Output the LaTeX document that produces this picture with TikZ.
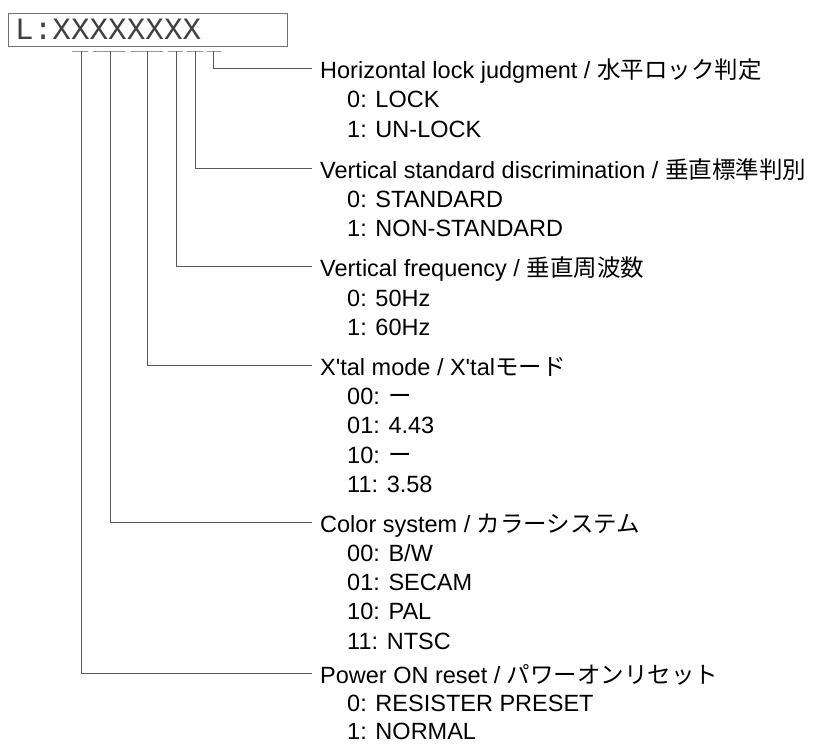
\documentclass[tikz,border=0pt]{standalone}
\usepackage{fontspec}
\setmainfont{Liberation Sans}
\newfontfamily\jp{Noto Sans CJK JP}
\newfontfamily\lcd{Liberation Mono}
\begin{document}
\begin{tikzpicture}[x=1pt,y=-1pt,
  lbl/.style={font=\fontsize{23.5}{28}\selectfont, inner sep=0pt, anchor=base west},
  hdr/.style={font=\fontsize{23.5}{28}\selectfont, anchor=west, inner xsep=8pt, inner ysep=0pt, text height=20pt, text depth=0pt},
  wire/.style={draw=black!65, line width=0.9pt},
  tickline/.style={draw=black!40, line width=1pt},
  regbox/.style={draw=black!55, line width=1.3pt, minimum width=279.5pt, minimum height=33.5pt, inner sep=0pt, anchor=north west},
  regtext/.style={font=\lcd\fontsize{31}{31}\selectfont, text=black!75, inner sep=0pt, anchor=base west}]
\useasboundingbox (0,0) rectangle (818,744);

% register box
\node[regbox] (reg) at (7.5,12.5) {};
\node[regtext] (regtxt) at (15,39) {L:XXXXXXXX};

% bit ticks
\coordinate (a1) at (72,51);  \coordinate (b1) at (88,51);
\coordinate (a2) at (93,51);  \coordinate (b2) at (125,51);
\coordinate (a3) at (131,51); \coordinate (b3) at (163,51);
\coordinate (a4) at (168,51); \coordinate (b4) at (183,51);
\coordinate (a5) at (187,51); \coordinate (b5) at (203,51);
\coordinate (a6) at (207,51); \coordinate (b6) at (221,51);
\foreach \i in {1,...,6} \draw[tickline] (a\i) -- (b\i);

\coordinate (t1) at (81,51);
\coordinate (t2) at (110,51);
\coordinate (t3) at (147.5,51);
\coordinate (t4) at (176,51);
\coordinate (t5) at (195,51);
\coordinate (t6) at (213.5,51);

% headers
\node[hdr] (h1) at (312,68.3) {Horizontal lock judgment / {\jp 水平ロック判定}};
\node[hdr] (h2) at (312,168) {Vertical standard discrimination / {\jp 垂直標準判別}};
\node[hdr] (h3) at (312,266.7) {Vertical frequency / {\jp 垂直周波数}};
\node[hdr] (h4) at (312,365.3) {X\textquotesingle tal mode / X\textquotesingle tal{\jp モード}};
\node[hdr] (h5) at (312,522) {Color system / {\jp カラーシステム}};
\node[hdr] (h6) at (312,673) {Power ON reset / {\jp パワーオンリセット}};

% items
\node[lbl] (h1a) at (347,107.7) {0: LOCK};
\node[lbl] (h1b) at (347,137.1) {1: UN-LOCK};
\node[lbl] (h2a) at (347,207.2) {0: STANDARD};
\node[lbl] (h2b) at (347,236.4) {1: NON-STANDARD};
\node[lbl] (h3a) at (347,306.1) {0: 50Hz};
\node[lbl] (h3b) at (347,335.3) {1: 60Hz};
\node[lbl] (h4a) at (347,404.6) {00: {\jp ー}};
\node[lbl] (h4b) at (347,433.8) {01: 4.43};
\node[lbl] (h4c) at (347,463) {10: {\jp ー}};
\node[lbl] (h4d) at (347,492.2) {11: 3.58};
\node[lbl] (h5a) at (347,561.2) {00: B/W};
\node[lbl] (h5b) at (347,590.5) {01: SECAM};
\node[lbl] (h5c) at (347,619.8) {10: PAL};
\node[lbl] (h5d) at (347,649.1) {11: NTSC};
\node[lbl] (h6a) at (347,711.5) {0: RESISTER PRESET};
\node[lbl] (h6b) at (347,739.5) {1: NORMAL};

% connectors
\draw[wire] (t6) |- (h1.west);
\draw[wire] (t5) |- (h2.west);
\draw[wire] (t4) |- (h3.west);
\draw[wire] (t3) |- (h4.west);
\draw[wire] (t2) |- (h5.west);
\draw[wire] (t1) |- (h6.west);
\end{tikzpicture}
\end{document}
